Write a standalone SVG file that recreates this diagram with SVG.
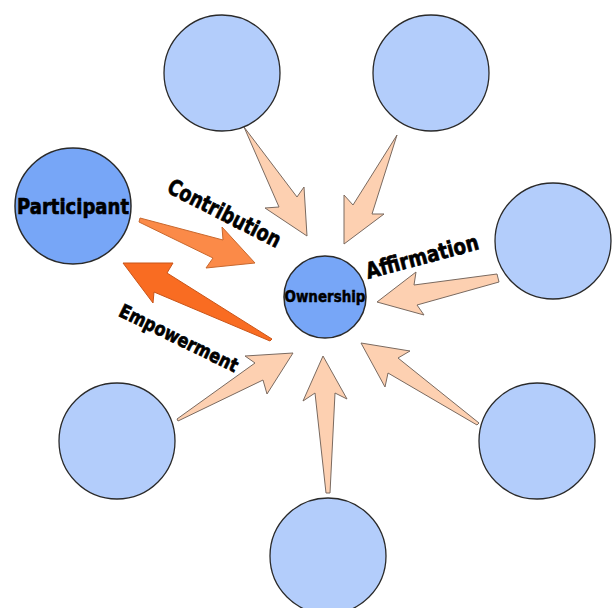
<svg xmlns="http://www.w3.org/2000/svg" width="616" height="608" viewBox="0 0 616 608">
<style>
.c{fill:#b3cdfb;stroke:#2a2a2a;stroke-width:1.3}
.d{fill:#77a6f7;stroke:#2a2a2a;stroke-width:1.5}
.a{fill:#fdd0b1;stroke:#7a6a60;stroke-width:1}
.t{font-family:"DejaVu Sans",sans-serif;font-weight:700;fill:#000;stroke:#000;stroke-width:0.7;stroke-linejoin:round}
</style>
<rect width="616" height="608" fill="#fff"/>
<g id="connectors">
<polygon class="a" points="244,127 297,197 304,187 307,236 265,208 279,207"/>
<polygon class="a" points="397,135 372,214 384,214 344,244 344,195 353,205"/>
<polygon class="a" points="497,274 414,285 416,272 377,302 424,315 417,305 499,282"/>
<polygon class="a" points="177,419 255,363 245,356 293,353 267,394 263,380 178,421"/>
<polygon class="a" points="326,493 315,393 303,401 323,356 347,399 335,393 330,493"/>
<polygon class="a" points="479,423 398,358 410,351 361,343 385,387 388,373 477,425"/>
<polygon fill="#fb8a48" stroke="#c8682e" stroke-width="1" points="140,218 223,240 222,227 255,263 206,268 213,258 139,222"/>
<polygon fill="#f96c22" stroke="#c85418" stroke-width="1" points="272,339 167,273 173,263 123,263 153,303 154,292 270,341"/>
</g>
<g id="n1"><circle class="c" cx="222" cy="73" r="58"/></g>
<g id="n2"><circle class="c" cx="431" cy="73" r="58"/></g>
<g id="n3"><circle class="c" cx="553" cy="241" r="58"/></g>
<g id="n4"><circle class="c" cx="537" cy="441" r="58"/></g>
<g id="n5"><circle class="c" cx="328" cy="556" r="58"/></g>
<g id="n6"><circle class="c" cx="117" cy="441" r="58"/></g>
<g id="participant"><circle class="d" cx="73" cy="206" r="58"/>
<text class="t" x="73" y="214" font-size="22" text-anchor="middle" textLength="112" lengthAdjust="spacingAndGlyphs">Participant</text></g>
<g id="ownership"><circle class="d" cx="325" cy="297" r="41"/>
<text class="t" x="325" y="302" font-size="15" text-anchor="middle" textLength="81" lengthAdjust="spacingAndGlyphs" style="stroke-width:0.5">Ownership</text></g>
<g id="labels">
<text class="t" font-size="22" text-anchor="middle" transform="translate(221,220) rotate(27)" textLength="124" lengthAdjust="spacingAndGlyphs">Contribution</text>
<text class="t" font-size="22" text-anchor="middle" transform="translate(424,264) rotate(-15)" textLength="116" lengthAdjust="spacingAndGlyphs">Affirmation</text>
<text class="t" font-size="19" text-anchor="middle" transform="translate(176,344) rotate(26)" textLength="130" lengthAdjust="spacingAndGlyphs">Empowerment</text>
</g>
</svg>
